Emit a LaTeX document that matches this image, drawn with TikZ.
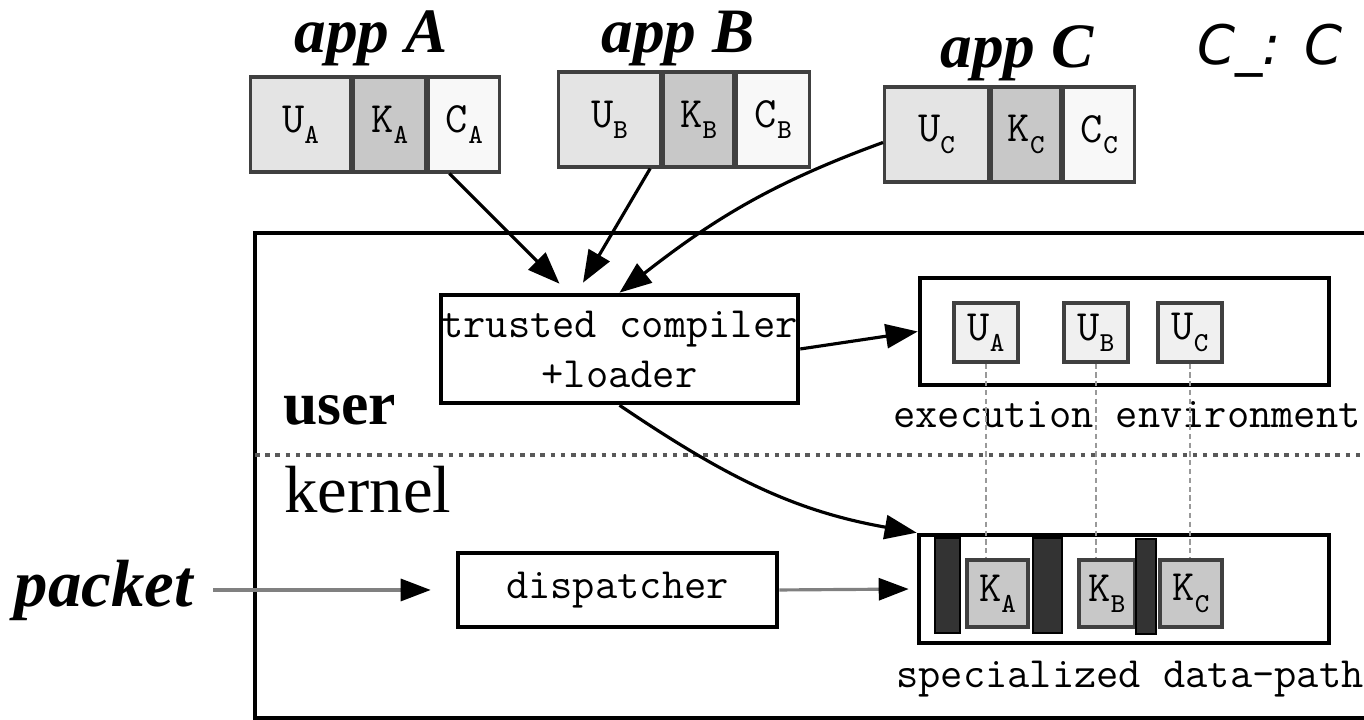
\documentclass[tikz,border=0pt]{standalone}
\usepackage{fontspec}
\usetikzlibrary{positioning,arrows.meta}
\newfontfamily\timesfont{Liberation Serif}
\newfontfamily\handfont{DejaVu Sans}
% letter with a dropped index, as in U_A
\newcommand\subl[2]{#1\raisebox{-0.6ex}{\fontsize{7.8}{8}\selectfont #2}}
\definecolor{ufill}{HTML}{E4E4E4}
\definecolor{kfill}{HTML}{C8C8C8}
\definecolor{cfill}{HTML}{F8F8F8}
\definecolor{barfill}{HTML}{333333}

\begin{document}
\begin{tikzpicture}[
  cell/.style={draw=black!75, line width=0.9pt, minimum height=0.95cm, inner sep=0pt,
    font=\ttfamily\fontsize{12.3}{14}\selectfont},
  block/.style={draw, line width=1.3pt, inner sep=0pt, fill=white},
  small/.style={draw=black!75, line width=0.9pt, inner sep=0pt,
    font=\ttfamily\fontsize{12.3}{14}\selectfont},
  tt/.style={font=\ttfamily\fontsize{12.3}{14.2}\selectfont},
  apptitle/.style={anchor=base, font=\timesfont\bfseries\itshape\fontsize{18}{20}\selectfont},
  arr/.style={line width=0.9pt, -{Triangle[length=0.32cm,width=0.24cm]}},
  garr/.style={draw=black!50, line width=0.9pt, -{Triangle[length=0.3cm,width=0.22cm,black]}},
  link/.style={draw=black!40, line width=0.5pt, dash pattern=on 1.5pt off 1pt},
]
\clip (0,0) rectangle (13.64,7.2);

% the three applications
\node[apptitle] (tA) at (3.71,6.67) {app A};
\node[apptitle] (tB) at (6.78,6.67) {app B};
\node[apptitle] (tC) at (10.17,6.52) {app C};

\node[cell, fill=ufill, minimum width=1.00cm, anchor=west] (UA) at (2.49,5.955) {\subl{U}{A}};
\node[cell, fill=kfill, minimum width=0.72cm, right=0pt of UA] (KA) {\subl{K}{A}};
\node[cell, fill=cfill, minimum width=0.71cm, right=0pt of KA] (CA) {\subl{C}{A}};

\node[cell, fill=ufill, minimum width=1.02cm, anchor=west] (UB) at (5.57,6.005) {\subl{U}{B}};
\node[cell, fill=kfill, minimum width=0.70cm, right=0pt of UB] (KB) {\subl{K}{B}};
\node[cell, fill=cfill, minimum width=0.73cm, right=0pt of KB] (CB) {\subl{C}{B}};

\node[cell, fill=ufill, minimum width=1.04cm, anchor=west] (UC) at (8.83,5.855) {\subl{U}{C}};
\node[cell, fill=kfill, minimum width=0.69cm, right=0pt of UC] (KC) {\subl{K}{C}};
\node[cell, fill=cfill, minimum width=0.71cm, right=0pt of KC] (CC) {\subl{C}{C}};

\node[anchor=base west, font=\handfont\itshape\fontsize{15.5}{18}\selectfont] (note) at (11.85,6.55) {C\_: C};

% system frame, user / kernel split
\draw[line width=1.2pt] (2.55,0.02) rectangle (14.0,4.87);
\draw[draw=black!65, line width=1.1pt, dash pattern=on 1.3pt off 1.6pt] (2.55,2.65) -- (14.0,2.65);
\node[anchor=base west, font=\timesfont\bfseries\fontsize{17.5}{20}\selectfont] (user) at (2.71,2.95) {user};
\node[anchor=base west, font=\timesfont\fontsize{19}{22}\selectfont] (kernel) at (2.72,2.07) {kernel};

% user space
\node[block, tt, align=center, minimum width=3.57cm, minimum height=1.08cm] (trusted) at (6.195,3.71)
  {trusted compiler\\+loader};
\node[block, minimum width=4.09cm, minimum height=1.07cm] (exec) at (11.245,3.885) {};
\node[small, fill=black!6, minimum width=0.64cm, minimum height=0.59cm] (uA) at (9.86,3.875) {\subl{U}{A}};
\node[small, fill=black!6, minimum width=0.64cm, minimum height=0.59cm] (uB) at (10.96,3.875) {\subl{U}{B}};
\node[small, fill=black!6, minimum width=0.64cm, minimum height=0.59cm] (uC) at (11.90,3.875) {\subl{U}{C}};
\node[tt, anchor=base] (execlbl) at (11.27,2.92) {execution environment};

% kernel space
\node[font=\timesfont\bfseries\itshape\fontsize{19}{22}\selectfont] (packet) at (1.04,1.30) {packet};
\node[block, tt, minimum width=3.19cm, minimum height=0.74cm] (disp) at (6.175,1.30) {dispatcher};
\node[block, minimum width=4.10cm, minimum height=1.08cm] (dp) at (11.24,1.31) {};
\node[small, fill=kfill, minimum width=0.61cm, minimum height=0.67cm] (kA) at (9.975,1.265) {\subl{K}{A}};
\node[small, fill=kfill, minimum width=0.56cm, minimum height=0.67cm] (kB) at (11.07,1.265) {\subl{K}{B}};
\node[small, fill=kfill, minimum width=0.62cm, minimum height=0.67cm] (kC) at (11.91,1.265) {\subl{K}{C}};
\node[draw=black, fill=barfill, line width=0.5pt, minimum width=0.25cm, minimum height=0.95cm, inner sep=0pt] (bar1) at (9.475,1.345) {};
\node[draw=black, fill=barfill, line width=0.5pt, minimum width=0.29cm, minimum height=0.95cm, inner sep=0pt] (bar2) at (10.475,1.345) {};
\node[draw=black, fill=barfill, line width=0.5pt, minimum width=0.20cm, minimum height=0.95cm, inner sep=0pt] (bar3) at (11.46,1.335) {};
\node[tt, anchor=base] (dplbl) at (11.30,0.32) {specialized data-path};

% user part to kernel part of each app
\draw[link] (uA.south) -- (uA.south |- kA.north);
\draw[link] (uB.south) -- (uB.south |- kB.north);
\draw[link] (uC.south) -- (uC.south |- kC.north);

% connectors
\draw[arr] ([xshift=0.22cm]CA.south west) -- ([xshift=-0.6cm,yshift=0.09cm]trusted.north);
\draw[arr] ([xshift=-0.12cm]UB.south east) -- ([xshift=-0.365cm,yshift=0.1cm]trusted.north);
\draw[arr] ([yshift=-0.08cm]UC.west) to[out=200,in=38] (trusted.north);
\draw[arr] (trusted.east) -- (exec.west);
\draw[arr] (trusted.south) to[out=-34,in=170] (dp.north west);
\draw[garr, shorten <=0.08cm, shorten >=0.25cm] (packet.east) -- (disp.west);
\draw[garr, shorten >=0.08cm] (disp.east) -- (dp.west);
\end{tikzpicture}
\end{document}
